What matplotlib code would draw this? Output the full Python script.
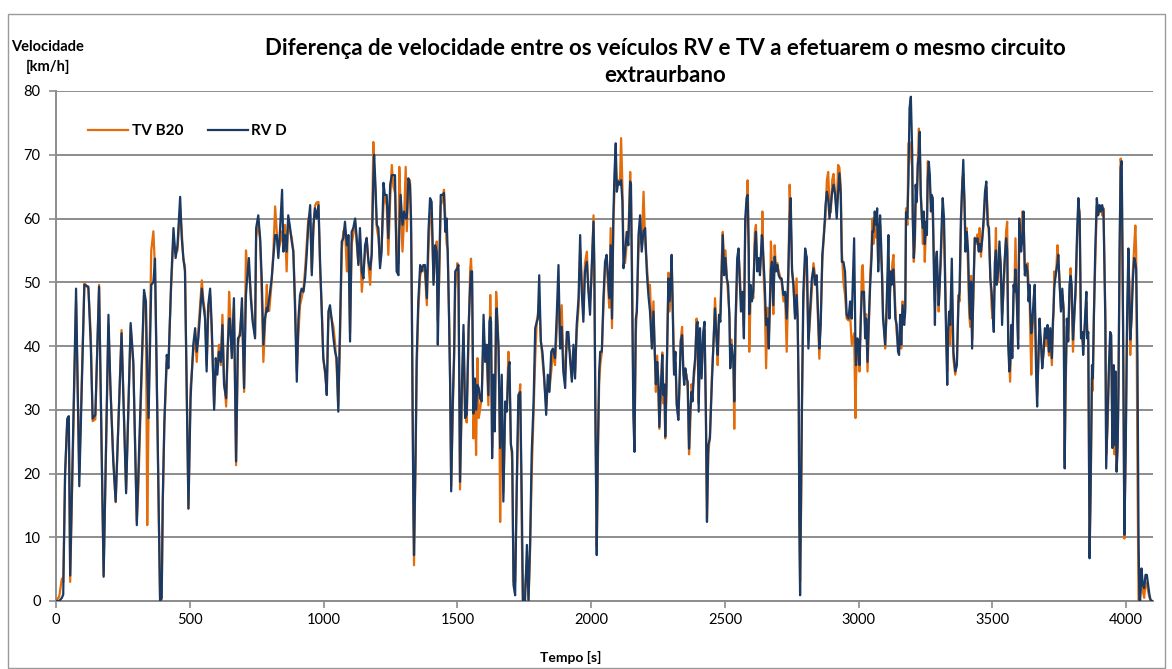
import matplotlib
matplotlib.use("Agg")
import matplotlib.pyplot as plt
from matplotlib.patches import Rectangle

# Speed traces of the two vehicles on the same extra-urban route
time_s = [
    0, 12, 22, 27, 34, 42, 48, 53, 75, 87,
    106, 121, 130, 137, 147, 161, 178, 196, 203, 214,
    223, 245, 262, 279, 289, 302, 308, 329, 336, 341,
    346, 356, 364, 370, 379, 389, 395, 399, 405, 414,
    420, 430, 439, 447, 454, 464, 470, 476, 482, 495,
    503, 513, 520, 526, 532, 538, 545, 551, 557, 563,
    569, 576, 582, 591, 597, 603, 609, 616, 622, 628,
    636, 641, 647, 650, 657, 665, 673, 680, 688, 695,
    703, 710, 715, 721, 728, 735, 744, 748, 756, 763,
    769, 775, 781, 788, 790, 797, 806, 812, 819, 825,
    831, 837, 845, 850, 856, 862, 868, 875, 881, 887,
    893, 900, 906, 912, 918, 925, 931, 937, 943, 950,
    956, 962, 968, 974, 981, 987, 993, 999, 1006, 1012,
    1018, 1024, 1030, 1037, 1043, 1049, 1055, 1062, 1068, 1074,
    1080, 1087, 1093, 1099, 1105, 1111, 1118, 1124, 1130, 1136,
    1143, 1149, 1155, 1161, 1168, 1174, 1180, 1186, 1189, 1194,
    1199, 1205, 1211, 1217, 1224, 1229, 1236, 1242, 1249, 1255,
    1261, 1267, 1273, 1280, 1283, 1288, 1295, 1301, 1307, 1311,
    1317, 1323, 1327, 1330, 1333, 1336, 1338, 1344, 1348, 1354,
    1361, 1367, 1373, 1379, 1386, 1392, 1398, 1404, 1411, 1417,
    1423, 1427, 1432, 1438, 1445, 1450, 1455, 1460, 1464, 1469,
    1473, 1477, 1483, 1488, 1492, 1500, 1504, 1510, 1517, 1523,
    1529, 1535, 1542, 1548, 1551, 1555, 1560, 1566, 1570, 1575,
    1580, 1585, 1591, 1598, 1604, 1610, 1616, 1620, 1623, 1626,
    1630, 1635, 1640, 1645, 1647, 1654, 1657, 1660, 1666, 1672,
    1679, 1685, 1691, 1695, 1700, 1705, 1710, 1716, 1722, 1728,
    1735, 1741, 1745, 1753, 1760, 1766, 1772, 1778, 1785, 1791,
    1797, 1801, 1806, 1812, 1818, 1824, 1832, 1838, 1844, 1851,
    1857, 1865, 1872, 1878, 1884, 1890, 1896, 1903, 1909, 1915,
    1921, 1928, 1934, 1940, 1946, 1953, 1959, 1965, 1971, 1977,
    1984, 1990, 1996, 2002, 2009, 2012, 2016, 2019, 2021, 2025,
    2030, 2034, 2040, 2046, 2052, 2058, 2065, 2068, 2073, 2078,
    2083, 2087, 2092, 2096, 2102, 2108, 2112, 2117, 2121, 2127,
    2133, 2139, 2146, 2149, 2153, 2158, 2162, 2167, 2171, 2177,
    2183, 2189, 2196, 2202, 2208, 2214, 2220, 2227, 2233, 2239,
    2242, 2247, 2251, 2255, 2261, 2266, 2270, 2274, 2277, 2282,
    2289, 2292, 2297, 2301, 2305, 2310, 2315, 2320, 2326, 2330,
    2335, 2340, 2345, 2348, 2352, 2357, 2361, 2366, 2370, 2375,
    2379, 2384, 2389, 2394, 2398, 2402, 2407, 2413, 2419, 2424,
    2429, 2433, 2438, 2444, 2451, 2457, 2463, 2469, 2473, 2478,
    2483, 2488, 2492, 2497, 2502, 2507, 2512, 2517, 2520, 2525,
    2532, 2535, 2540, 2546, 2551, 2556, 2560, 2566, 2571, 2576,
    2581, 2585, 2589, 2591, 2596, 2601, 2606, 2612, 2616, 2621,
    2626, 2631, 2638, 2640, 2644, 2649, 2654, 2659, 2664, 2669,
    2672, 2676, 2681, 2686, 2691, 2696, 2701, 2706, 2712, 2719,
    2725, 2731, 2737, 2742, 2746, 2751, 2756, 2762, 2768, 2772,
    2776, 2778, 2781, 2785, 2788, 2793, 2800, 2806, 2812, 2818,
    2825, 2831, 2837, 2843, 2849, 2853, 2858, 2864, 2871, 2876,
    2881, 2886, 2891, 2896, 2901, 2906, 2912, 2918, 2923, 2928,
    2933, 2937, 2943, 2949, 2955, 2962, 2968, 2974, 2983, 2988,
    2990, 2995, 2999, 3003, 3008, 3012, 3015, 3020, 3024, 3028,
    3033, 3038, 3043, 3048, 3051, 3055, 3060, 3065, 3069, 3073,
    3076, 3080, 3084, 3088, 3091, 3095, 3099, 3103, 3108, 3111,
    3115, 3119, 3123, 3126, 3130, 3134, 3137, 3142, 3147, 3151,
    3155, 3159, 3164, 3170, 3174, 3177, 3182, 3186, 3190, 3195,
    3200, 3202, 3206, 3210, 3213, 3217, 3221, 3225, 3228, 3232,
    3236, 3240, 3243, 3247, 3251, 3255, 3258, 3262, 3266, 3270,
    3273, 3277, 3281, 3285, 3288, 3292, 3296, 3299, 3303, 3307,
    3311, 3314, 3319, 3323, 3327, 3331, 3334, 3338, 3342, 3348,
    3354, 3361, 3367, 3373, 3377, 3382, 3387, 3391, 3396, 3399,
    3404, 3409, 3413, 3417, 3420, 3424, 3429, 3434, 3439, 3444,
    3449, 3452, 3457, 3462, 3467, 3472, 3477, 3482, 3487, 3492,
    3497, 3500, 3505, 3509, 3513, 3516, 3521, 3526, 3531, 3536,
    3541, 3546, 3551, 3555, 3559, 3563, 3566, 3570, 3574, 3579,
    3582, 3586, 3591, 3596, 3600, 3604, 3607, 3612, 3616, 3621,
    3626, 3631, 3635, 3639, 3641, 3645, 3649, 3654, 3658, 3663,
    3667, 3672, 3676, 3681, 3686, 3691, 3696, 3701, 3706, 3711,
    3716, 3722, 3726, 3728, 3731, 3733, 3738, 3743, 3746, 3751,
    3756, 3761, 3766, 3770, 3773, 3778, 3783, 3788, 3792, 3796,
    3801, 3806, 3811, 3816, 3821, 3826, 3831, 3836, 3839, 3843,
    3847, 3851, 3854, 3858, 3863, 3867, 3872, 3875, 3879, 3884,
    3890, 3895, 3900, 3905, 3910, 3915, 3922, 3925, 3930, 3935,
    3940, 3944, 3948, 3953, 3956, 3960, 3964, 3968, 3971, 3975,
    3979, 3983, 3988, 3993, 3998, 4003, 4008, 4011, 4015, 4020,
    4025, 4030, 4034, 4037, 4042, 4046, 4049, 4052, 4057, 4062,
    4067, 4072, 4077, 4082, 4087, 4092, 4097,
]

rv_d = [
    0, 0, 0.5, 1, 20, 28.6, 29, 4, 49, 18,
    49.6, 49.3, 40, 28.6, 29.2, 49.3, 3.8, 44.9, 34, 21.9,
    15.6, 42, 16.9, 43.6, 37.5, 11.9, 20.3, 48.8, 47, 36,
    28.7, 49.6, 50, 53.7, 28.7, 0, 0.5, 16, 28.1, 38.6,
    36.5, 49.6, 58.5, 53.8, 55.8, 63.4, 56.9, 53.8, 51.7, 14.5,
    31.8, 40.2, 42.8, 39.1, 41.2, 44.9, 49, 46.4, 44.3, 36,
    46.4, 49, 43.3, 30, 38.1, 35.5, 39.1, 37.5, 43.3, 33.9,
    31.8, 39.1, 44.3, 44.3, 38.1, 47.5, 21.9, 41.2, 41.7, 47.5,
    33.4, 48, 51.1, 53.8, 47.5, 43.8, 41.2, 58.5, 60.5, 56.9,
    50.6, 40.2, 44.3, 46, 45.4, 47.5, 50.6, 53.8, 57.4, 57.4,
    53.8, 58, 64.5, 54.8, 57.4, 54.8, 60.5, 58.5, 56.4, 54.8,
    46.4, 34.4, 44.3, 48, 49, 48.5, 50.6, 54.3, 59, 62.1,
    51.1, 59, 61.6, 60, 62.1, 53.2, 45.9, 38.1, 36, 32.3,
    45.4, 46.4, 44.3, 41.2, 39.1, 38.1, 29.7, 44.3, 56.4, 56.9,
    59.5, 55.8, 57.4, 40.7, 57.9, 58.5, 60, 56.9, 52.7, 58.5,
    51.7, 50.6, 55.8, 56.9, 53.2, 52, 54.3, 66, 70, 65.3,
    59, 58.5, 52.2, 54.8, 65.6, 63.7, 63.7, 56.9, 65.3, 66.8,
    66.8, 66.8, 51.7, 51.1, 58, 63.7, 59, 61.1, 60, 60,
    66.3, 65.3, 60, 47, 28.7, 13, 7.2, 23.4, 38.1, 47,
    52.7, 51.7, 52.7, 52.7, 47.5, 57.9, 63.2, 62.6, 49.6, 55.8,
    54.8, 40.2, 52, 63.7, 63.7, 64, 57.9, 60, 54.8, 44.3,
    33.9, 17.2, 31.3, 39.1, 51.7, 52.2, 52.7, 18.7, 33.9, 43.3,
    28.7, 29.2, 42.8, 49.6, 51.7, 51.7, 29.4, 34.9, 30, 33.9,
    33.4, 31.8, 31.3, 44.9, 37.5, 40.2, 32.3, 43.8, 44.5, 43.8,
    22.4, 35.5, 26.6, 45, 45.9, 39.6, 31.3, 24, 35.5, 15.6,
    31.3, 29.7, 36.5, 37.5, 24.5, 23.4, 2.5, 0.9, 18.2, 32.3,
    32.8, 15.6, 0, 0, 8.8, 0, 9.3, 23.4, 31.3, 42.8,
    43.8, 44.3, 51.1, 40.7, 39.1, 35.5, 29.2, 35.5, 32.8, 39.1,
    39.6, 38.1, 45.4, 52.7, 39.6, 43, 36, 33.4, 42.2, 42.2,
    38.1, 34.4, 40.2, 34.9, 43.3, 47.5, 57.4, 48.5, 43.8, 51.7,
    53.2, 48.5, 44.9, 52.2, 59.5, 51.7, 28.7, 15.6, 7.2, 23.4,
    36, 39.1, 39.1, 47.5, 53.2, 54.3, 49.6, 47.5, 55.8, 44.3,
    60, 66.8, 71.8, 64.2, 65.8, 65.3, 66, 62.6, 52.2, 54.8,
    57.9, 55.8, 65.8, 65.3, 49.6, 28.7, 23.4, 44.3, 45.4, 57.4,
    60.5, 54.8, 58, 58.5, 51.7, 48, 45.4, 39.6, 45.4, 38.1,
    34, 37.5, 34.9, 27.3, 33.9, 38.6, 32.3, 33.9, 25.8, 34.9,
    50.6, 47, 49.6, 54.3, 45.4, 35.5, 39.1, 30.7, 28.4, 33.9,
    40.7, 41.7, 35.5, 33.9, 36.5, 34.9, 34.4, 23.9, 29.2, 32.8,
    31.3, 36, 38.1, 43.3, 43.8, 29.7, 42.8, 34.9, 42.2, 43.8,
    28.7, 12.4, 24.5, 25.5, 33.9, 40.2, 45.9, 40.7, 38.6, 44.9,
    43.8, 51.7, 57.4, 51.1, 53.8, 50.6, 49.6, 44.3, 36.5, 40.2,
    37.5, 31.3, 44.3, 53.8, 55.3, 49.6, 45.4, 48.5, 41.2, 60,
    63.2, 63.7, 54.8, 45, 49.6, 47, 48.5, 56, 57.9, 51.7,
    53.8, 51.1, 57.4, 57, 53.8, 49.6, 43.3, 44.3, 39.6, 48.5,
    52, 53.2, 46.4, 54, 51.7, 52.7, 51.1, 50.6, 50.6, 48,
    48.5, 44.3, 51.7, 60, 63.2, 51.7, 49.6, 44.3, 48, 44.3,
    31.3, 13, 0.9, 18.2, 31.3, 48.5, 55.3, 53.8, 39.6, 45.4,
    50.6, 52.2, 49.6, 51.1, 44.3, 39.6, 43.3, 54.3, 57.9, 62.1,
    64.2, 63, 60, 62.1, 64.2, 65.3, 63.7, 60, 64, 67.1,
    63.7, 53.2, 53.2, 51.7, 44.9, 44.3, 47, 44.3, 56.9, 40,
    37, 41.2, 40.7, 37, 44.3, 48.5, 48.5, 48.5, 41.2, 44.3,
    37.5, 44.3, 49.6, 53.8, 58, 57.9, 61.1, 59, 61.6, 51.7,
    56.9, 60.5, 55.8, 49.6, 44.3, 42.2, 40.2, 44.3, 51.7, 57.4,
    44.3, 51.7, 49.6, 51.7, 52, 48, 44.3, 43.3, 39.1, 38.6,
    44.9, 40.2, 46.4, 43.3, 45.4, 61, 60, 66, 77.3, 79.1,
    70.5, 60, 53.8, 57.4, 65.3, 62.6, 68.4, 70, 73.6, 63.7,
    60, 58.5, 61.1, 56, 59.5, 57.4, 66, 68.9, 66.8, 61.1,
    63.7, 63.2, 51.7, 43.3, 53.2, 54.8, 50.1, 46.4, 49.6, 54.8,
    60, 63.2, 60, 49.6, 41.2, 33.9, 42.2, 45.4, 43.3, 53.7,
    39.1, 36, 37, 47, 48.5, 60, 65.3, 69.2, 61.1, 54.8,
    57.9, 54.8, 47.5, 44.3, 50.1, 39.6, 49.6, 56.9, 56.4, 56.9,
    54.8, 56, 54.8, 56.9, 60, 64.2, 65.8, 59, 58.5, 50.6,
    48.5, 46, 42.2, 53.2, 55, 49.6, 51.7, 56.4, 52.2, 43.3,
    49.6, 53.8, 56.9, 55, 40.2, 36, 37, 43.3, 38.1, 49.6,
    48.5, 52, 47, 39.6, 60, 56.9, 54.8, 57, 61.1, 51.1,
    52.7, 51.7, 47, 49.6, 46, 42, 43.8, 47.5, 49.6, 36,
    30.5, 39.1, 44.3, 40.7, 36.5, 39.1, 42.8, 41.2, 43.3, 39.1,
    42.8, 38.1, 44, 45.4, 49, 50, 51.7, 53, 54.3, 49.6,
    45.4, 49, 45.4, 20.8, 33.9, 44.3, 40.7, 49.6, 51, 49.6,
    41, 44.9, 49.6, 57.4, 63.2, 60, 41.2, 42.2, 38.6, 41.7,
    45.4, 48.5, 41.2, 42.2, 6.7, 18.2, 37, 34.9, 44.3, 54.8,
    63.2, 60.5, 62.1, 61.1, 62.1, 61.1, 43.3, 20.8, 28.7, 36.5,
    42.2, 41.7, 24, 37, 24.5, 36, 20.3, 24.5, 33.9, 54.8,
    68, 69, 44.3, 10.4, 23.4, 44.3, 55.3, 49.6, 41, 44.3,
    50.6, 53.8, 53, 52.2, 38.1, 10, 0, 0, 5.1, 2.5,
    2, 4.1, 4.1, 2.5, 0.9, 0, 0,
]

tv_b20 = [
    0, 0.7, 3.5, 3, 20, 28, 27, 3, 47, 20,
    49.9, 49, 42, 28.2, 28.5, 49.6, 4, 43.3, 34, 22.5,
    15.5, 42.5, 17.5, 43, 37, 12.5, 18, 48, 45.9, 11.9,
    30, 55, 58, 52, 28, 0, 0.3, 15, 27.5, 37.5,
    37, 49, 57, 54.5, 55, 61.5, 58, 53.5, 52.5, 14.5,
    33.5, 39, 41.5, 37.5, 42.5, 46, 50.3, 47, 45.4, 37,
    45, 48, 42, 30.7, 36, 37, 40.2, 37, 44.9, 35,
    30.5, 38, 48.5, 46, 39, 46, 21.3, 40, 42.5, 46,
    32.8, 55, 52, 51.7, 48.5, 44.3, 41.7, 57, 59.5, 56.4,
    48, 37.5, 43, 49.6, 47, 45.5, 50, 54.5, 61.9, 58,
    55, 56, 58, 55, 59, 51.7, 60, 58, 57, 55,
    48, 36, 42, 46.4, 47.5, 49, 52, 56, 60, 60.5,
    51.7, 58, 62, 62.5, 62.6, 52, 46.4, 38, 35.5, 33,
    44, 45.4, 44.3, 43, 40.5, 36.5, 30.5, 42, 55, 58,
    58.5, 51.7, 57, 42, 56, 57.5, 59.5, 56, 53, 56.9,
    48.5, 52, 54.5, 57, 52.7, 49.6, 55, 72, 68, 64,
    58.5, 57, 53, 56, 62, 63.7, 62, 54.3, 63, 68.4,
    65, 64, 55, 53, 68.1, 62, 54.8, 60, 68.1, 58,
    65, 66, 58, 45, 30, 15, 5.6, 22, 36, 45.4,
    51, 52, 52, 51.5, 46.4, 55, 60.5, 61, 50, 54,
    56.4, 44, 50, 62, 63, 64.5, 60, 56, 55, 45,
    35, 18, 30, 38, 49, 53, 51.7, 17.5, 32, 42,
    30, 28, 41.7, 52, 53.7, 50, 25.5, 33, 22.9, 38.1,
    28.7, 30, 32, 42, 39, 38, 30.7, 40, 48, 42,
    24, 34, 28, 48.5, 47, 40, 30, 12.4, 33, 17,
    30, 30.5, 39.1, 35, 25, 22, 3, 3, 17, 30,
    34, 10, 0, 2, 6, 0, 8, 20, 30, 38,
    44, 44.9, 47, 41, 38, 35, 30.5, 34, 33, 36,
    39, 37, 43, 49, 41, 46.4, 38, 36, 41, 40,
    39, 35, 38, 36, 42, 46, 55, 50, 45, 53,
    54.8, 49, 47, 51, 60.5, 53, 30, 17, 8.5, 21,
    34, 37, 39, 46, 52, 54, 48, 46, 58.5, 42.8,
    59, 64, 69, 65, 66, 66, 72.6, 65, 55, 53,
    56, 57, 67.3, 63, 52, 32, 25, 42, 46, 55,
    58, 56, 64.2, 56, 53, 49, 49.6, 40.5, 47, 37,
    32.8, 38.5, 33.5, 27, 33, 39, 31, 34, 25.5, 33.5,
    51.5, 45.4, 48.5, 53, 47, 36, 37.5, 31, 29, 33,
    41, 43, 36, 35, 36, 35.5, 33, 23, 27, 34,
    33, 35, 37, 44.3, 42, 31, 40, 36, 41, 42.5,
    30, 13, 23, 26, 35, 40, 47.5, 42, 37, 44,
    45, 53.5, 57.9, 52, 55, 51, 48, 45, 38, 41,
    36, 27, 43, 51, 54.5, 51, 47.5, 48, 43, 58,
    62, 66, 56, 39.1, 47.5, 49, 47.5, 57.9, 59, 52,
    53, 52, 56, 61.1, 52, 47, 36.5, 46, 41, 47,
    56.4, 52, 45, 55.8, 52, 53, 51.7, 51, 50, 47,
    48, 39.1, 50, 65.3, 60, 52, 50, 45, 50.6, 43,
    32, 15, 3, 15, 30, 46, 53, 54, 41, 44,
    49, 53, 51, 50, 43, 38, 44, 53, 58.5, 60,
    66, 67.3, 62, 61, 66, 67, 64, 61, 68.4, 68,
    65, 55, 50, 48, 44.3, 44, 45, 40.2, 42, 28.7,
    34.5, 41, 40, 36, 45, 52, 52.7, 47, 43, 45,
    36, 43, 51, 55, 60, 56, 59, 57, 59, 53,
    54, 59, 54, 51, 45, 43, 39.6, 44, 49, 54,
    47, 50, 51, 53, 54.3, 49, 46, 42, 40, 40,
    43, 39.6, 47, 45, 46, 61.6, 59, 71.8, 72, 70,
    68, 62, 53.2, 56, 62, 63, 69, 74.1, 72, 64,
    61, 56, 60, 53.2, 58, 60, 69, 67, 65, 62.5,
    62, 60, 54, 47, 52, 53, 49, 45.4, 50.5, 53,
    58, 61, 58, 52, 43, 36, 41, 43, 40.2, 49,
    38, 35.5, 37.5, 48, 47, 58, 66, 67, 62.5, 57,
    58.5, 52, 45, 43, 51, 41, 48, 57, 56, 57.5,
    55, 58.5, 54, 57, 59, 63, 65, 61, 57, 51,
    46, 44.3, 45, 52, 58.5, 50, 50, 55, 53, 45,
    48, 53, 58, 59.5, 41, 37, 34.4, 42, 39.1, 48,
    49, 56.9, 48, 41, 56, 57.5, 56, 61.1, 60.5, 52,
    51, 53, 49.6, 47, 43.3, 35.5, 42, 46, 47, 38,
    32, 38, 42, 41, 37, 39, 42, 40, 42, 38.5,
    41.2, 37, 43, 45, 51.7, 50.6, 51.5, 55.8, 54, 50,
    46, 48, 46, 22, 32, 43, 41, 48, 52.2, 48,
    39.1, 45, 48, 56, 62, 61, 42, 41, 40, 42,
    44, 47, 43, 40.5, 8, 17, 35, 33, 45, 53,
    62, 61, 61, 62, 60.5, 61.6, 45, 23, 27, 35,
    41, 40, 26, 35, 23, 34, 20.3, 25, 33, 53,
    69.4, 68, 43, 9.8, 25, 42, 52, 50, 38.6, 46,
    52, 56, 58.9, 55, 20, 0, 0, 1, 4, 1.5,
    0.5, 3, 2.5, 1.5, 0.5, 0, 0,
]

series_labels = ["TV B20", "RV D"]
x_ticks = [0, 500, 1000, 1500, 2000, 2500, 3000, 3500, 4000]
y_ticks = [0, 10, 20, 30, 40, 50, 60, 70, 80]

title_text = ("Diferença de velocidade entre os veículos RV e TV a efetuarem o mesmo circuito\n"
              "extraurbano")

ORANGE = "#E46C0A"
NAVY = "#1B3A63"
GRID = "#8C8C8C"

plt.rcParams["font.family"] = ["Lato", "DejaVu Sans"]

W, H = 1172, 669
fig = plt.figure(figsize=(W / 100, H / 100), dpi=100)
fig.patch.set_facecolor("white")

# outer chart border
fig.add_artist(Rectangle((8 / W, 1 - 668 / H), (1165 - 8) / W, (668 - 14) / H,
                         transform=fig.transFigure, fill=False,
                         edgecolor="#9A9A9A", linewidth=1.0))

ax_l, ax_r, ax_t, ax_b = 56, 1153, 91, 601
ax = fig.add_axes([ax_l / W, 1 - ax_b / H, (ax_r - ax_l) / W, (ax_b - ax_t) / H])

ax.plot(time_s, tv_b20, color=ORANGE, linewidth=1.6, label=series_labels[0], zorder=3)
ax.plot(time_s, rv_d, color=NAVY, linewidth=1.6, label=series_labels[1], zorder=4)

ax.set_xlim(0, 4100)
ax.set_ylim(0, 80)
ax.set_xticks(x_ticks)
ax.set_yticks(y_ticks)
ax.yaxis.grid(True, color=GRID, linewidth=1.4, zorder=1)
ax.set_axisbelow(True)

for side in ("top", "right"):
    ax.spines[side].set_visible(False)
for side in ("left", "bottom"):
    ax.spines[side].set_color(GRID)
    ax.spines[side].set_linewidth(1.4)

ax.tick_params(axis="both", colors=GRID, length=5, width=1.2, labelsize=10.5,
               labelcolor="black")
ax.tick_params(axis="x", pad=4)
ax.tick_params(axis="y", pad=6)

# axis titles
fig.text(571 / W, 1 - 657 / H, "Tempo [s]", ha="center", va="center",
         fontsize=10, fontweight="bold")
fig.text(48 / W, 1 - 57 / H, "Velocidade\n[km/h]", ha="center", va="center",
         fontsize=10.5, fontweight="bold", linespacing=1.45)

fig.text(665 / W, 1 - 62 / H, title_text, ha="center", va="center",
         fontsize=16, fontweight="bold", linespacing=1.3)

leg = ax.legend(loc="upper left", bbox_to_anchor=(0.017, 0.962), ncol=2,
                frameon=False, handlelength=2.6, columnspacing=1.6,
                handletextpad=0.25, prop={"weight": "bold", "size": 11})

fig.savefig("out.png", dpi=100, facecolor="white")
